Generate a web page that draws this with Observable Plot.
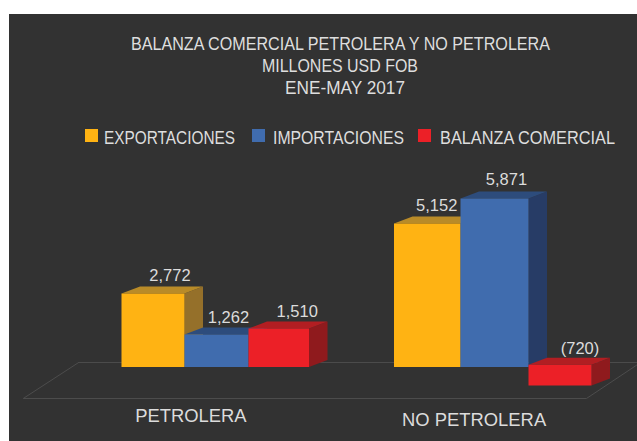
<!DOCTYPE html>
<html><head><meta charset="utf-8">
<script src="https://cdn.jsdelivr.net/npm/d3@7"></script>
<script src="https://cdn.jsdelivr.net/npm/@observablehq/plot@0.6"></script>
<style>
html,body{margin:0;padding:0;background:#fff;width:637px;height:441px;overflow:hidden}
#panel{position:absolute;left:9px;top:14px;width:628px;height:427px;background:#323232}
.t{position:absolute;white-space:nowrap;color:#dedede;font-family:"Open Sans",sans-serif;transform-origin:0 50%;line-height:1}
.tl{position:absolute;white-space:nowrap;color:#dedede;font-family:"Liberation Sans Narrow","Liberation Sans",sans-serif;transform-origin:0 50%;line-height:1}
.s{position:absolute;width:13px;height:13px}
svg{position:absolute;left:0;top:160px;overflow:visible}
</style></head><body>
<div id="panel"></div><div id="chart"></div>
<script>
const titleLines = ["BALANZA COMERCIAL PETROLERA Y NO PETROLERA","MILLONES USD FOB","ENE-MAY 2017"];
const categories = ["PETROLERA","NO PETROLERA"];
const seriesNames = ["EXPORTACIONES","IMPORTACIONES","BALANZA COMERCIAL"];
const exportaciones = [2772,5152];
const importaciones = [1262,5871];
const balanza = [1510,-720];
const valueLabels = ["2,772","1,262","1,510","5,152","5,871","(720)"];
const front = ["#FFB313","#406CAE","#EC2027"];
const topFace = ["#B98B28","#2D4C7C","#B21E22"];
const sideFace = ["#95702A","#273C66","#8F1A1D"];

// perspective-adjusted scales
const xDomain = [0,1,2,3,4,5,6,7], xRange = [121,184,248,308.5,393.5,460,528,591];
const yDomain = [-720,0,1262,1510,2772,5152,5871], yRange = [225,206.5,174,168,133,63,38];
const depthX = 18.5, depthY = -7, negBase = 90;
const labelShift = [17,12,18.5,9.5,12,20], labelLift = [18,17,17,18,19,16];
const catSlot = [1.1,5.2], catLevel = [-1926,-2082];
const floorX = [-0.68,7.78,6.92,-1.56,-0.68], floorY = [175,175,-1226,-1226,175];

const X = Plot.scale({x:{type:"linear",domain:xDomain,range:xRange}});
const Y = Plot.scale({y:{type:"linear",domain:yDomain,range:yRange}});
const back = (x,y)=>({x:X.invert(X.apply(x)+depthX), y:Y.invert(Y.apply(y)+depthY)});

const bars=[];
categories.forEach((c,g)=>{
  [exportaciones,importaciones,balanza].forEach((s,k)=>{
    bars.push({slot:g*4+k,g,k,value:s[g]});
  });
});
const polys=[];
bars.forEach((b,i)=>{
  const x0=b.slot,x1=b.slot+1;
  const hi=b.value<0?negBase:b.value, lo=b.value<0?b.value:0;
  const add=(name,color,pts)=>pts.forEach(p=>polys.push({id:i+name,color,x:p.x,y:p.y}));
  add("s",sideFace[b.k],[{x:x1,y:lo},{x:x1,y:hi},back(x1,hi),back(x1,lo)]);
  add("t",topFace[b.k],[{x:x0,y:hi},{x:x1,y:hi},back(x1,hi),back(x0,hi)]);
  add("f",front[b.k],[{x:x0,y:lo},{x:x1,y:lo},{x:x1,y:hi},{x:x0,y:hi}]);
});
const labels=bars.map((b,i)=>{
  const top=b.value<0?negBase:b.value;
  return {text:valueLabels[i],
    x:X.invert(X.apply(b.slot+.5)+labelShift[i]),
    y:Y.invert(Y.apply(top)-labelLift[i])};
});

const plot=Plot.plot({
  width:637,height:281,margin:0,
  style:{background:"transparent"},
  x:{type:"linear",domain:xDomain,range:xRange,axis:null},
  y:{type:"linear",domain:yDomain,range:yRange,axis:null},
  marks:[
    Plot.line(floorX.map((x,i)=>({x,y:floorY[i]})),{x:"x",y:"y",stroke:"#4c4c4c",strokeWidth:1,curve:"linear"}),
    Plot.line(polys,{x:"x",y:"y",z:"id",fill:"color",curve:"linear"}),
    Plot.text(labels,{x:"x",y:"y",text:"text",fill:"#dcdcdc",fontSize:16.5,fontFamily:"Liberation Sans"}),
    Plot.text(categories,{x:(d,i)=>catSlot[i],y:(d,i)=>catLevel[i],text:d=>d,fill:"#dcdcdc",fontSize:18.4,fontFamily:"Liberation Sans"})
  ]
});
document.getElementById("chart").append(plot);

// title and legend above the svg
function addText(str,left,right,cy,size,cls){
  const e=document.createElement("div");e.className=cls;e.textContent=str;
  e.style.fontSize=size+"px";e.style.left=left+"px";e.style.top=(cy-size/2)+"px";
  document.body.append(e);
  const w=e.getBoundingClientRect().width;
  e.style.transform=`scaleX(${(right-left)/w})`;
}
addText(titleLines[0],131,550,43,19,"tl");
addText(titleLines[1],262,418,65,19,"tl");
addText(titleLines[2],285,405,87,19,"tl");
addText(seriesNames[0],104,235,137.5,19,"tl");
addText(seriesNames[1],273,404,137.5,19,"tl");
addText(seriesNames[2],440,615,137.5,19,"tl");
[85,252,418].forEach((l,i)=>{
  const s=document.createElement("div");s.className="s";
  s.style.left=l+"px";s.style.top="129px";s.style.background=front[i];
  document.body.append(s);
});
</script></body></html>
